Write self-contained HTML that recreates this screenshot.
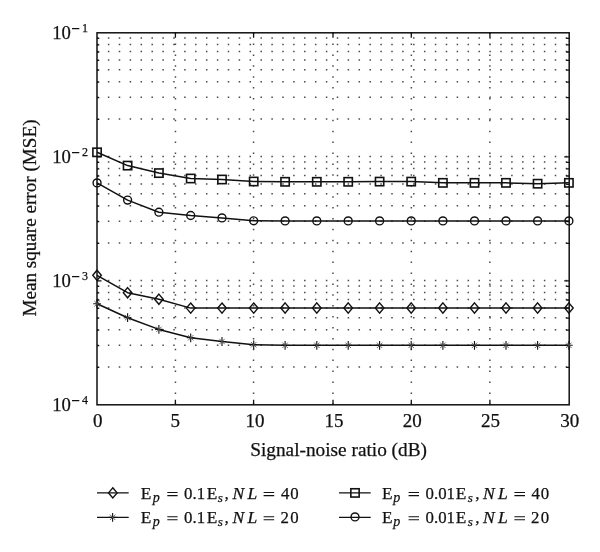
<!DOCTYPE html><html><head><meta charset="utf-8"><style>html,body{margin:0;padding:0;background:#fff;}svg{display:block;will-change:transform}text{font-family:"Liberation Serif",serif;fill:#111;stroke:#111;stroke-width:0.25px}</style></head><body>
<svg width="600" height="552" viewBox="0 0 600 552">
<rect width="600" height="552" fill="#fff"/>
<path fill="#4a4a4a" d="M96.95 366.32h1.5v1.5h-1.5zM107.85 366.32h1.5v1.5h-1.5zM118.75 366.32h1.5v1.5h-1.5zM129.65 366.32h1.5v1.5h-1.5zM140.55 366.32h1.5v1.5h-1.5zM151.45 366.32h1.5v1.5h-1.5zM162.35 366.32h1.5v1.5h-1.5zM173.25 366.32h1.5v1.5h-1.5zM184.15 366.32h1.5v1.5h-1.5zM195.05 366.32h1.5v1.5h-1.5zM205.95 366.32h1.5v1.5h-1.5zM216.85 366.32h1.5v1.5h-1.5zM227.75 366.32h1.5v1.5h-1.5zM238.65 366.32h1.5v1.5h-1.5zM249.55 366.32h1.5v1.5h-1.5zM260.45 366.32h1.5v1.5h-1.5zM271.35 366.32h1.5v1.5h-1.5zM282.25 366.32h1.5v1.5h-1.5zM293.15 366.32h1.5v1.5h-1.5zM304.05 366.32h1.5v1.5h-1.5zM314.95 366.32h1.5v1.5h-1.5zM325.85 366.32h1.5v1.5h-1.5zM336.75 366.32h1.5v1.5h-1.5zM347.65 366.32h1.5v1.5h-1.5zM358.55 366.32h1.5v1.5h-1.5zM369.45 366.32h1.5v1.5h-1.5zM380.35 366.32h1.5v1.5h-1.5zM391.25 366.32h1.5v1.5h-1.5zM402.15 366.32h1.5v1.5h-1.5zM413.05 366.32h1.5v1.5h-1.5zM423.95 366.32h1.5v1.5h-1.5zM434.85 366.32h1.5v1.5h-1.5zM445.75 366.32h1.5v1.5h-1.5zM456.65 366.32h1.5v1.5h-1.5zM467.55 366.32h1.5v1.5h-1.5zM478.45 366.32h1.5v1.5h-1.5zM489.35 366.32h1.5v1.5h-1.5zM500.25 366.32h1.5v1.5h-1.5zM511.15 366.32h1.5v1.5h-1.5zM522.05 366.32h1.5v1.5h-1.5zM532.95 366.32h1.5v1.5h-1.5zM543.85 366.32h1.5v1.5h-1.5zM554.75 366.32h1.5v1.5h-1.5zM565.65 366.32h1.5v1.5h-1.5zM96.95 344.49h1.5v1.5h-1.5zM107.85 344.49h1.5v1.5h-1.5zM118.75 344.49h1.5v1.5h-1.5zM129.65 344.49h1.5v1.5h-1.5zM140.55 344.49h1.5v1.5h-1.5zM151.45 344.49h1.5v1.5h-1.5zM162.35 344.49h1.5v1.5h-1.5zM173.25 344.49h1.5v1.5h-1.5zM184.15 344.49h1.5v1.5h-1.5zM195.05 344.49h1.5v1.5h-1.5zM205.95 344.49h1.5v1.5h-1.5zM216.85 344.49h1.5v1.5h-1.5zM227.75 344.49h1.5v1.5h-1.5zM238.65 344.49h1.5v1.5h-1.5zM249.55 344.49h1.5v1.5h-1.5zM260.45 344.49h1.5v1.5h-1.5zM271.35 344.49h1.5v1.5h-1.5zM282.25 344.49h1.5v1.5h-1.5zM293.15 344.49h1.5v1.5h-1.5zM304.05 344.49h1.5v1.5h-1.5zM314.95 344.49h1.5v1.5h-1.5zM325.85 344.49h1.5v1.5h-1.5zM336.75 344.49h1.5v1.5h-1.5zM347.65 344.49h1.5v1.5h-1.5zM358.55 344.49h1.5v1.5h-1.5zM369.45 344.49h1.5v1.5h-1.5zM380.35 344.49h1.5v1.5h-1.5zM391.25 344.49h1.5v1.5h-1.5zM402.15 344.49h1.5v1.5h-1.5zM413.05 344.49h1.5v1.5h-1.5zM423.95 344.49h1.5v1.5h-1.5zM434.85 344.49h1.5v1.5h-1.5zM445.75 344.49h1.5v1.5h-1.5zM456.65 344.49h1.5v1.5h-1.5zM467.55 344.49h1.5v1.5h-1.5zM478.45 344.49h1.5v1.5h-1.5zM489.35 344.49h1.5v1.5h-1.5zM500.25 344.49h1.5v1.5h-1.5zM511.15 344.49h1.5v1.5h-1.5zM522.05 344.49h1.5v1.5h-1.5zM532.95 344.49h1.5v1.5h-1.5zM543.85 344.49h1.5v1.5h-1.5zM554.75 344.49h1.5v1.5h-1.5zM565.65 344.49h1.5v1.5h-1.5zM96.95 328.99h1.5v1.5h-1.5zM107.85 328.99h1.5v1.5h-1.5zM118.75 328.99h1.5v1.5h-1.5zM129.65 328.99h1.5v1.5h-1.5zM140.55 328.99h1.5v1.5h-1.5zM151.45 328.99h1.5v1.5h-1.5zM162.35 328.99h1.5v1.5h-1.5zM173.25 328.99h1.5v1.5h-1.5zM184.15 328.99h1.5v1.5h-1.5zM195.05 328.99h1.5v1.5h-1.5zM205.95 328.99h1.5v1.5h-1.5zM216.85 328.99h1.5v1.5h-1.5zM227.75 328.99h1.5v1.5h-1.5zM238.65 328.99h1.5v1.5h-1.5zM249.55 328.99h1.5v1.5h-1.5zM260.45 328.99h1.5v1.5h-1.5zM271.35 328.99h1.5v1.5h-1.5zM282.25 328.99h1.5v1.5h-1.5zM293.15 328.99h1.5v1.5h-1.5zM304.05 328.99h1.5v1.5h-1.5zM314.95 328.99h1.5v1.5h-1.5zM325.85 328.99h1.5v1.5h-1.5zM336.75 328.99h1.5v1.5h-1.5zM347.65 328.99h1.5v1.5h-1.5zM358.55 328.99h1.5v1.5h-1.5zM369.45 328.99h1.5v1.5h-1.5zM380.35 328.99h1.5v1.5h-1.5zM391.25 328.99h1.5v1.5h-1.5zM402.15 328.99h1.5v1.5h-1.5zM413.05 328.99h1.5v1.5h-1.5zM423.95 328.99h1.5v1.5h-1.5zM434.85 328.99h1.5v1.5h-1.5zM445.75 328.99h1.5v1.5h-1.5zM456.65 328.99h1.5v1.5h-1.5zM467.55 328.99h1.5v1.5h-1.5zM478.45 328.99h1.5v1.5h-1.5zM489.35 328.99h1.5v1.5h-1.5zM500.25 328.99h1.5v1.5h-1.5zM511.15 328.99h1.5v1.5h-1.5zM522.05 328.99h1.5v1.5h-1.5zM532.95 328.99h1.5v1.5h-1.5zM543.85 328.99h1.5v1.5h-1.5zM554.75 328.99h1.5v1.5h-1.5zM565.65 328.99h1.5v1.5h-1.5zM96.95 316.98h1.5v1.5h-1.5zM107.85 316.98h1.5v1.5h-1.5zM118.75 316.98h1.5v1.5h-1.5zM129.65 316.98h1.5v1.5h-1.5zM140.55 316.98h1.5v1.5h-1.5zM151.45 316.98h1.5v1.5h-1.5zM162.35 316.98h1.5v1.5h-1.5zM173.25 316.98h1.5v1.5h-1.5zM184.15 316.98h1.5v1.5h-1.5zM195.05 316.98h1.5v1.5h-1.5zM205.95 316.98h1.5v1.5h-1.5zM216.85 316.98h1.5v1.5h-1.5zM227.75 316.98h1.5v1.5h-1.5zM238.65 316.98h1.5v1.5h-1.5zM249.55 316.98h1.5v1.5h-1.5zM260.45 316.98h1.5v1.5h-1.5zM271.35 316.98h1.5v1.5h-1.5zM282.25 316.98h1.5v1.5h-1.5zM293.15 316.98h1.5v1.5h-1.5zM304.05 316.98h1.5v1.5h-1.5zM314.95 316.98h1.5v1.5h-1.5zM325.85 316.98h1.5v1.5h-1.5zM336.75 316.98h1.5v1.5h-1.5zM347.65 316.98h1.5v1.5h-1.5zM358.55 316.98h1.5v1.5h-1.5zM369.45 316.98h1.5v1.5h-1.5zM380.35 316.98h1.5v1.5h-1.5zM391.25 316.98h1.5v1.5h-1.5zM402.15 316.98h1.5v1.5h-1.5zM413.05 316.98h1.5v1.5h-1.5zM423.95 316.98h1.5v1.5h-1.5zM434.85 316.98h1.5v1.5h-1.5zM445.75 316.98h1.5v1.5h-1.5zM456.65 316.98h1.5v1.5h-1.5zM467.55 316.98h1.5v1.5h-1.5zM478.45 316.98h1.5v1.5h-1.5zM489.35 316.98h1.5v1.5h-1.5zM500.25 316.98h1.5v1.5h-1.5zM511.15 316.98h1.5v1.5h-1.5zM522.05 316.98h1.5v1.5h-1.5zM532.95 316.98h1.5v1.5h-1.5zM543.85 316.98h1.5v1.5h-1.5zM554.75 316.98h1.5v1.5h-1.5zM565.65 316.98h1.5v1.5h-1.5zM96.95 307.16h1.5v1.5h-1.5zM107.85 307.16h1.5v1.5h-1.5zM118.75 307.16h1.5v1.5h-1.5zM129.65 307.16h1.5v1.5h-1.5zM140.55 307.16h1.5v1.5h-1.5zM151.45 307.16h1.5v1.5h-1.5zM162.35 307.16h1.5v1.5h-1.5zM173.25 307.16h1.5v1.5h-1.5zM184.15 307.16h1.5v1.5h-1.5zM195.05 307.16h1.5v1.5h-1.5zM205.95 307.16h1.5v1.5h-1.5zM216.85 307.16h1.5v1.5h-1.5zM227.75 307.16h1.5v1.5h-1.5zM238.65 307.16h1.5v1.5h-1.5zM249.55 307.16h1.5v1.5h-1.5zM260.45 307.16h1.5v1.5h-1.5zM271.35 307.16h1.5v1.5h-1.5zM282.25 307.16h1.5v1.5h-1.5zM293.15 307.16h1.5v1.5h-1.5zM304.05 307.16h1.5v1.5h-1.5zM314.95 307.16h1.5v1.5h-1.5zM325.85 307.16h1.5v1.5h-1.5zM336.75 307.16h1.5v1.5h-1.5zM347.65 307.16h1.5v1.5h-1.5zM358.55 307.16h1.5v1.5h-1.5zM369.45 307.16h1.5v1.5h-1.5zM380.35 307.16h1.5v1.5h-1.5zM391.25 307.16h1.5v1.5h-1.5zM402.15 307.16h1.5v1.5h-1.5zM413.05 307.16h1.5v1.5h-1.5zM423.95 307.16h1.5v1.5h-1.5zM434.85 307.16h1.5v1.5h-1.5zM445.75 307.16h1.5v1.5h-1.5zM456.65 307.16h1.5v1.5h-1.5zM467.55 307.16h1.5v1.5h-1.5zM478.45 307.16h1.5v1.5h-1.5zM489.35 307.16h1.5v1.5h-1.5zM500.25 307.16h1.5v1.5h-1.5zM511.15 307.16h1.5v1.5h-1.5zM522.05 307.16h1.5v1.5h-1.5zM532.95 307.16h1.5v1.5h-1.5zM543.85 307.16h1.5v1.5h-1.5zM554.75 307.16h1.5v1.5h-1.5zM565.65 307.16h1.5v1.5h-1.5zM96.95 298.86h1.5v1.5h-1.5zM107.85 298.86h1.5v1.5h-1.5zM118.75 298.86h1.5v1.5h-1.5zM129.65 298.86h1.5v1.5h-1.5zM140.55 298.86h1.5v1.5h-1.5zM151.45 298.86h1.5v1.5h-1.5zM162.35 298.86h1.5v1.5h-1.5zM173.25 298.86h1.5v1.5h-1.5zM184.15 298.86h1.5v1.5h-1.5zM195.05 298.86h1.5v1.5h-1.5zM205.95 298.86h1.5v1.5h-1.5zM216.85 298.86h1.5v1.5h-1.5zM227.75 298.86h1.5v1.5h-1.5zM238.65 298.86h1.5v1.5h-1.5zM249.55 298.86h1.5v1.5h-1.5zM260.45 298.86h1.5v1.5h-1.5zM271.35 298.86h1.5v1.5h-1.5zM282.25 298.86h1.5v1.5h-1.5zM293.15 298.86h1.5v1.5h-1.5zM304.05 298.86h1.5v1.5h-1.5zM314.95 298.86h1.5v1.5h-1.5zM325.85 298.86h1.5v1.5h-1.5zM336.75 298.86h1.5v1.5h-1.5zM347.65 298.86h1.5v1.5h-1.5zM358.55 298.86h1.5v1.5h-1.5zM369.45 298.86h1.5v1.5h-1.5zM380.35 298.86h1.5v1.5h-1.5zM391.25 298.86h1.5v1.5h-1.5zM402.15 298.86h1.5v1.5h-1.5zM413.05 298.86h1.5v1.5h-1.5zM423.95 298.86h1.5v1.5h-1.5zM434.85 298.86h1.5v1.5h-1.5zM445.75 298.86h1.5v1.5h-1.5zM456.65 298.86h1.5v1.5h-1.5zM467.55 298.86h1.5v1.5h-1.5zM478.45 298.86h1.5v1.5h-1.5zM489.35 298.86h1.5v1.5h-1.5zM500.25 298.86h1.5v1.5h-1.5zM511.15 298.86h1.5v1.5h-1.5zM522.05 298.86h1.5v1.5h-1.5zM532.95 298.86h1.5v1.5h-1.5zM543.85 298.86h1.5v1.5h-1.5zM554.75 298.86h1.5v1.5h-1.5zM565.65 298.86h1.5v1.5h-1.5zM96.95 291.67h1.5v1.5h-1.5zM107.85 291.67h1.5v1.5h-1.5zM118.75 291.67h1.5v1.5h-1.5zM129.65 291.67h1.5v1.5h-1.5zM140.55 291.67h1.5v1.5h-1.5zM151.45 291.67h1.5v1.5h-1.5zM162.35 291.67h1.5v1.5h-1.5zM173.25 291.67h1.5v1.5h-1.5zM184.15 291.67h1.5v1.5h-1.5zM195.05 291.67h1.5v1.5h-1.5zM205.95 291.67h1.5v1.5h-1.5zM216.85 291.67h1.5v1.5h-1.5zM227.75 291.67h1.5v1.5h-1.5zM238.65 291.67h1.5v1.5h-1.5zM249.55 291.67h1.5v1.5h-1.5zM260.45 291.67h1.5v1.5h-1.5zM271.35 291.67h1.5v1.5h-1.5zM282.25 291.67h1.5v1.5h-1.5zM293.15 291.67h1.5v1.5h-1.5zM304.05 291.67h1.5v1.5h-1.5zM314.95 291.67h1.5v1.5h-1.5zM325.85 291.67h1.5v1.5h-1.5zM336.75 291.67h1.5v1.5h-1.5zM347.65 291.67h1.5v1.5h-1.5zM358.55 291.67h1.5v1.5h-1.5zM369.45 291.67h1.5v1.5h-1.5zM380.35 291.67h1.5v1.5h-1.5zM391.25 291.67h1.5v1.5h-1.5zM402.15 291.67h1.5v1.5h-1.5zM413.05 291.67h1.5v1.5h-1.5zM423.95 291.67h1.5v1.5h-1.5zM434.85 291.67h1.5v1.5h-1.5zM445.75 291.67h1.5v1.5h-1.5zM456.65 291.67h1.5v1.5h-1.5zM467.55 291.67h1.5v1.5h-1.5zM478.45 291.67h1.5v1.5h-1.5zM489.35 291.67h1.5v1.5h-1.5zM500.25 291.67h1.5v1.5h-1.5zM511.15 291.67h1.5v1.5h-1.5zM522.05 291.67h1.5v1.5h-1.5zM532.95 291.67h1.5v1.5h-1.5zM543.85 291.67h1.5v1.5h-1.5zM554.75 291.67h1.5v1.5h-1.5zM565.65 291.67h1.5v1.5h-1.5zM96.95 285.32h1.5v1.5h-1.5zM107.85 285.32h1.5v1.5h-1.5zM118.75 285.32h1.5v1.5h-1.5zM129.65 285.32h1.5v1.5h-1.5zM140.55 285.32h1.5v1.5h-1.5zM151.45 285.32h1.5v1.5h-1.5zM162.35 285.32h1.5v1.5h-1.5zM173.25 285.32h1.5v1.5h-1.5zM184.15 285.32h1.5v1.5h-1.5zM195.05 285.32h1.5v1.5h-1.5zM205.95 285.32h1.5v1.5h-1.5zM216.85 285.32h1.5v1.5h-1.5zM227.75 285.32h1.5v1.5h-1.5zM238.65 285.32h1.5v1.5h-1.5zM249.55 285.32h1.5v1.5h-1.5zM260.45 285.32h1.5v1.5h-1.5zM271.35 285.32h1.5v1.5h-1.5zM282.25 285.32h1.5v1.5h-1.5zM293.15 285.32h1.5v1.5h-1.5zM304.05 285.32h1.5v1.5h-1.5zM314.95 285.32h1.5v1.5h-1.5zM325.85 285.32h1.5v1.5h-1.5zM336.75 285.32h1.5v1.5h-1.5zM347.65 285.32h1.5v1.5h-1.5zM358.55 285.32h1.5v1.5h-1.5zM369.45 285.32h1.5v1.5h-1.5zM380.35 285.32h1.5v1.5h-1.5zM391.25 285.32h1.5v1.5h-1.5zM402.15 285.32h1.5v1.5h-1.5zM413.05 285.32h1.5v1.5h-1.5zM423.95 285.32h1.5v1.5h-1.5zM434.85 285.32h1.5v1.5h-1.5zM445.75 285.32h1.5v1.5h-1.5zM456.65 285.32h1.5v1.5h-1.5zM467.55 285.32h1.5v1.5h-1.5zM478.45 285.32h1.5v1.5h-1.5zM489.35 285.32h1.5v1.5h-1.5zM500.25 285.32h1.5v1.5h-1.5zM511.15 285.32h1.5v1.5h-1.5zM522.05 285.32h1.5v1.5h-1.5zM532.95 285.32h1.5v1.5h-1.5zM543.85 285.32h1.5v1.5h-1.5zM554.75 285.32h1.5v1.5h-1.5zM565.65 285.32h1.5v1.5h-1.5zM96.95 279.65h1.5v1.5h-1.5zM107.85 279.65h1.5v1.5h-1.5zM118.75 279.65h1.5v1.5h-1.5zM129.65 279.65h1.5v1.5h-1.5zM140.55 279.65h1.5v1.5h-1.5zM151.45 279.65h1.5v1.5h-1.5zM162.35 279.65h1.5v1.5h-1.5zM173.25 279.65h1.5v1.5h-1.5zM184.15 279.65h1.5v1.5h-1.5zM195.05 279.65h1.5v1.5h-1.5zM205.95 279.65h1.5v1.5h-1.5zM216.85 279.65h1.5v1.5h-1.5zM227.75 279.65h1.5v1.5h-1.5zM238.65 279.65h1.5v1.5h-1.5zM249.55 279.65h1.5v1.5h-1.5zM260.45 279.65h1.5v1.5h-1.5zM271.35 279.65h1.5v1.5h-1.5zM282.25 279.65h1.5v1.5h-1.5zM293.15 279.65h1.5v1.5h-1.5zM304.05 279.65h1.5v1.5h-1.5zM314.95 279.65h1.5v1.5h-1.5zM325.85 279.65h1.5v1.5h-1.5zM336.75 279.65h1.5v1.5h-1.5zM347.65 279.65h1.5v1.5h-1.5zM358.55 279.65h1.5v1.5h-1.5zM369.45 279.65h1.5v1.5h-1.5zM380.35 279.65h1.5v1.5h-1.5zM391.25 279.65h1.5v1.5h-1.5zM402.15 279.65h1.5v1.5h-1.5zM413.05 279.65h1.5v1.5h-1.5zM423.95 279.65h1.5v1.5h-1.5zM434.85 279.65h1.5v1.5h-1.5zM445.75 279.65h1.5v1.5h-1.5zM456.65 279.65h1.5v1.5h-1.5zM467.55 279.65h1.5v1.5h-1.5zM478.45 279.65h1.5v1.5h-1.5zM489.35 279.65h1.5v1.5h-1.5zM500.25 279.65h1.5v1.5h-1.5zM511.15 279.65h1.5v1.5h-1.5zM522.05 279.65h1.5v1.5h-1.5zM532.95 279.65h1.5v1.5h-1.5zM543.85 279.65h1.5v1.5h-1.5zM554.75 279.65h1.5v1.5h-1.5zM565.65 279.65h1.5v1.5h-1.5zM96.95 242.32h1.5v1.5h-1.5zM107.85 242.32h1.5v1.5h-1.5zM118.75 242.32h1.5v1.5h-1.5zM129.65 242.32h1.5v1.5h-1.5zM140.55 242.32h1.5v1.5h-1.5zM151.45 242.32h1.5v1.5h-1.5zM162.35 242.32h1.5v1.5h-1.5zM173.25 242.32h1.5v1.5h-1.5zM184.15 242.32h1.5v1.5h-1.5zM195.05 242.32h1.5v1.5h-1.5zM205.95 242.32h1.5v1.5h-1.5zM216.85 242.32h1.5v1.5h-1.5zM227.75 242.32h1.5v1.5h-1.5zM238.65 242.32h1.5v1.5h-1.5zM249.55 242.32h1.5v1.5h-1.5zM260.45 242.32h1.5v1.5h-1.5zM271.35 242.32h1.5v1.5h-1.5zM282.25 242.32h1.5v1.5h-1.5zM293.15 242.32h1.5v1.5h-1.5zM304.05 242.32h1.5v1.5h-1.5zM314.95 242.32h1.5v1.5h-1.5zM325.85 242.32h1.5v1.5h-1.5zM336.75 242.32h1.5v1.5h-1.5zM347.65 242.32h1.5v1.5h-1.5zM358.55 242.32h1.5v1.5h-1.5zM369.45 242.32h1.5v1.5h-1.5zM380.35 242.32h1.5v1.5h-1.5zM391.25 242.32h1.5v1.5h-1.5zM402.15 242.32h1.5v1.5h-1.5zM413.05 242.32h1.5v1.5h-1.5zM423.95 242.32h1.5v1.5h-1.5zM434.85 242.32h1.5v1.5h-1.5zM445.75 242.32h1.5v1.5h-1.5zM456.65 242.32h1.5v1.5h-1.5zM467.55 242.32h1.5v1.5h-1.5zM478.45 242.32h1.5v1.5h-1.5zM489.35 242.32h1.5v1.5h-1.5zM500.25 242.32h1.5v1.5h-1.5zM511.15 242.32h1.5v1.5h-1.5zM522.05 242.32h1.5v1.5h-1.5zM532.95 242.32h1.5v1.5h-1.5zM543.85 242.32h1.5v1.5h-1.5zM554.75 242.32h1.5v1.5h-1.5zM565.65 242.32h1.5v1.5h-1.5zM96.95 220.49h1.5v1.5h-1.5zM107.85 220.49h1.5v1.5h-1.5zM118.75 220.49h1.5v1.5h-1.5zM129.65 220.49h1.5v1.5h-1.5zM140.55 220.49h1.5v1.5h-1.5zM151.45 220.49h1.5v1.5h-1.5zM162.35 220.49h1.5v1.5h-1.5zM173.25 220.49h1.5v1.5h-1.5zM184.15 220.49h1.5v1.5h-1.5zM195.05 220.49h1.5v1.5h-1.5zM205.95 220.49h1.5v1.5h-1.5zM216.85 220.49h1.5v1.5h-1.5zM227.75 220.49h1.5v1.5h-1.5zM238.65 220.49h1.5v1.5h-1.5zM249.55 220.49h1.5v1.5h-1.5zM260.45 220.49h1.5v1.5h-1.5zM271.35 220.49h1.5v1.5h-1.5zM282.25 220.49h1.5v1.5h-1.5zM293.15 220.49h1.5v1.5h-1.5zM304.05 220.49h1.5v1.5h-1.5zM314.95 220.49h1.5v1.5h-1.5zM325.85 220.49h1.5v1.5h-1.5zM336.75 220.49h1.5v1.5h-1.5zM347.65 220.49h1.5v1.5h-1.5zM358.55 220.49h1.5v1.5h-1.5zM369.45 220.49h1.5v1.5h-1.5zM380.35 220.49h1.5v1.5h-1.5zM391.25 220.49h1.5v1.5h-1.5zM402.15 220.49h1.5v1.5h-1.5zM413.05 220.49h1.5v1.5h-1.5zM423.95 220.49h1.5v1.5h-1.5zM434.85 220.49h1.5v1.5h-1.5zM445.75 220.49h1.5v1.5h-1.5zM456.65 220.49h1.5v1.5h-1.5zM467.55 220.49h1.5v1.5h-1.5zM478.45 220.49h1.5v1.5h-1.5zM489.35 220.49h1.5v1.5h-1.5zM500.25 220.49h1.5v1.5h-1.5zM511.15 220.49h1.5v1.5h-1.5zM522.05 220.49h1.5v1.5h-1.5zM532.95 220.49h1.5v1.5h-1.5zM543.85 220.49h1.5v1.5h-1.5zM554.75 220.49h1.5v1.5h-1.5zM565.65 220.49h1.5v1.5h-1.5zM96.95 204.99h1.5v1.5h-1.5zM107.85 204.99h1.5v1.5h-1.5zM118.75 204.99h1.5v1.5h-1.5zM129.65 204.99h1.5v1.5h-1.5zM140.55 204.99h1.5v1.5h-1.5zM151.45 204.99h1.5v1.5h-1.5zM162.35 204.99h1.5v1.5h-1.5zM173.25 204.99h1.5v1.5h-1.5zM184.15 204.99h1.5v1.5h-1.5zM195.05 204.99h1.5v1.5h-1.5zM205.95 204.99h1.5v1.5h-1.5zM216.85 204.99h1.5v1.5h-1.5zM227.75 204.99h1.5v1.5h-1.5zM238.65 204.99h1.5v1.5h-1.5zM249.55 204.99h1.5v1.5h-1.5zM260.45 204.99h1.5v1.5h-1.5zM271.35 204.99h1.5v1.5h-1.5zM282.25 204.99h1.5v1.5h-1.5zM293.15 204.99h1.5v1.5h-1.5zM304.05 204.99h1.5v1.5h-1.5zM314.95 204.99h1.5v1.5h-1.5zM325.85 204.99h1.5v1.5h-1.5zM336.75 204.99h1.5v1.5h-1.5zM347.65 204.99h1.5v1.5h-1.5zM358.55 204.99h1.5v1.5h-1.5zM369.45 204.99h1.5v1.5h-1.5zM380.35 204.99h1.5v1.5h-1.5zM391.25 204.99h1.5v1.5h-1.5zM402.15 204.99h1.5v1.5h-1.5zM413.05 204.99h1.5v1.5h-1.5zM423.95 204.99h1.5v1.5h-1.5zM434.85 204.99h1.5v1.5h-1.5zM445.75 204.99h1.5v1.5h-1.5zM456.65 204.99h1.5v1.5h-1.5zM467.55 204.99h1.5v1.5h-1.5zM478.45 204.99h1.5v1.5h-1.5zM489.35 204.99h1.5v1.5h-1.5zM500.25 204.99h1.5v1.5h-1.5zM511.15 204.99h1.5v1.5h-1.5zM522.05 204.99h1.5v1.5h-1.5zM532.95 204.99h1.5v1.5h-1.5zM543.85 204.99h1.5v1.5h-1.5zM554.75 204.99h1.5v1.5h-1.5zM565.65 204.99h1.5v1.5h-1.5zM96.95 192.98h1.5v1.5h-1.5zM107.85 192.98h1.5v1.5h-1.5zM118.75 192.98h1.5v1.5h-1.5zM129.65 192.98h1.5v1.5h-1.5zM140.55 192.98h1.5v1.5h-1.5zM151.45 192.98h1.5v1.5h-1.5zM162.35 192.98h1.5v1.5h-1.5zM173.25 192.98h1.5v1.5h-1.5zM184.15 192.98h1.5v1.5h-1.5zM195.05 192.98h1.5v1.5h-1.5zM205.95 192.98h1.5v1.5h-1.5zM216.85 192.98h1.5v1.5h-1.5zM227.75 192.98h1.5v1.5h-1.5zM238.65 192.98h1.5v1.5h-1.5zM249.55 192.98h1.5v1.5h-1.5zM260.45 192.98h1.5v1.5h-1.5zM271.35 192.98h1.5v1.5h-1.5zM282.25 192.98h1.5v1.5h-1.5zM293.15 192.98h1.5v1.5h-1.5zM304.05 192.98h1.5v1.5h-1.5zM314.95 192.98h1.5v1.5h-1.5zM325.85 192.98h1.5v1.5h-1.5zM336.75 192.98h1.5v1.5h-1.5zM347.65 192.98h1.5v1.5h-1.5zM358.55 192.98h1.5v1.5h-1.5zM369.45 192.98h1.5v1.5h-1.5zM380.35 192.98h1.5v1.5h-1.5zM391.25 192.98h1.5v1.5h-1.5zM402.15 192.98h1.5v1.5h-1.5zM413.05 192.98h1.5v1.5h-1.5zM423.95 192.98h1.5v1.5h-1.5zM434.85 192.98h1.5v1.5h-1.5zM445.75 192.98h1.5v1.5h-1.5zM456.65 192.98h1.5v1.5h-1.5zM467.55 192.98h1.5v1.5h-1.5zM478.45 192.98h1.5v1.5h-1.5zM489.35 192.98h1.5v1.5h-1.5zM500.25 192.98h1.5v1.5h-1.5zM511.15 192.98h1.5v1.5h-1.5zM522.05 192.98h1.5v1.5h-1.5zM532.95 192.98h1.5v1.5h-1.5zM543.85 192.98h1.5v1.5h-1.5zM554.75 192.98h1.5v1.5h-1.5zM565.65 192.98h1.5v1.5h-1.5zM96.95 183.16h1.5v1.5h-1.5zM107.85 183.16h1.5v1.5h-1.5zM118.75 183.16h1.5v1.5h-1.5zM129.65 183.16h1.5v1.5h-1.5zM140.55 183.16h1.5v1.5h-1.5zM151.45 183.16h1.5v1.5h-1.5zM162.35 183.16h1.5v1.5h-1.5zM173.25 183.16h1.5v1.5h-1.5zM184.15 183.16h1.5v1.5h-1.5zM195.05 183.16h1.5v1.5h-1.5zM205.95 183.16h1.5v1.5h-1.5zM216.85 183.16h1.5v1.5h-1.5zM227.75 183.16h1.5v1.5h-1.5zM238.65 183.16h1.5v1.5h-1.5zM249.55 183.16h1.5v1.5h-1.5zM260.45 183.16h1.5v1.5h-1.5zM271.35 183.16h1.5v1.5h-1.5zM282.25 183.16h1.5v1.5h-1.5zM293.15 183.16h1.5v1.5h-1.5zM304.05 183.16h1.5v1.5h-1.5zM314.95 183.16h1.5v1.5h-1.5zM325.85 183.16h1.5v1.5h-1.5zM336.75 183.16h1.5v1.5h-1.5zM347.65 183.16h1.5v1.5h-1.5zM358.55 183.16h1.5v1.5h-1.5zM369.45 183.16h1.5v1.5h-1.5zM380.35 183.16h1.5v1.5h-1.5zM391.25 183.16h1.5v1.5h-1.5zM402.15 183.16h1.5v1.5h-1.5zM413.05 183.16h1.5v1.5h-1.5zM423.95 183.16h1.5v1.5h-1.5zM434.85 183.16h1.5v1.5h-1.5zM445.75 183.16h1.5v1.5h-1.5zM456.65 183.16h1.5v1.5h-1.5zM467.55 183.16h1.5v1.5h-1.5zM478.45 183.16h1.5v1.5h-1.5zM489.35 183.16h1.5v1.5h-1.5zM500.25 183.16h1.5v1.5h-1.5zM511.15 183.16h1.5v1.5h-1.5zM522.05 183.16h1.5v1.5h-1.5zM532.95 183.16h1.5v1.5h-1.5zM543.85 183.16h1.5v1.5h-1.5zM554.75 183.16h1.5v1.5h-1.5zM565.65 183.16h1.5v1.5h-1.5zM96.95 174.86h1.5v1.5h-1.5zM107.85 174.86h1.5v1.5h-1.5zM118.75 174.86h1.5v1.5h-1.5zM129.65 174.86h1.5v1.5h-1.5zM140.55 174.86h1.5v1.5h-1.5zM151.45 174.86h1.5v1.5h-1.5zM162.35 174.86h1.5v1.5h-1.5zM173.25 174.86h1.5v1.5h-1.5zM184.15 174.86h1.5v1.5h-1.5zM195.05 174.86h1.5v1.5h-1.5zM205.95 174.86h1.5v1.5h-1.5zM216.85 174.86h1.5v1.5h-1.5zM227.75 174.86h1.5v1.5h-1.5zM238.65 174.86h1.5v1.5h-1.5zM249.55 174.86h1.5v1.5h-1.5zM260.45 174.86h1.5v1.5h-1.5zM271.35 174.86h1.5v1.5h-1.5zM282.25 174.86h1.5v1.5h-1.5zM293.15 174.86h1.5v1.5h-1.5zM304.05 174.86h1.5v1.5h-1.5zM314.95 174.86h1.5v1.5h-1.5zM325.85 174.86h1.5v1.5h-1.5zM336.75 174.86h1.5v1.5h-1.5zM347.65 174.86h1.5v1.5h-1.5zM358.55 174.86h1.5v1.5h-1.5zM369.45 174.86h1.5v1.5h-1.5zM380.35 174.86h1.5v1.5h-1.5zM391.25 174.86h1.5v1.5h-1.5zM402.15 174.86h1.5v1.5h-1.5zM413.05 174.86h1.5v1.5h-1.5zM423.95 174.86h1.5v1.5h-1.5zM434.85 174.86h1.5v1.5h-1.5zM445.75 174.86h1.5v1.5h-1.5zM456.65 174.86h1.5v1.5h-1.5zM467.55 174.86h1.5v1.5h-1.5zM478.45 174.86h1.5v1.5h-1.5zM489.35 174.86h1.5v1.5h-1.5zM500.25 174.86h1.5v1.5h-1.5zM511.15 174.86h1.5v1.5h-1.5zM522.05 174.86h1.5v1.5h-1.5zM532.95 174.86h1.5v1.5h-1.5zM543.85 174.86h1.5v1.5h-1.5zM554.75 174.86h1.5v1.5h-1.5zM565.65 174.86h1.5v1.5h-1.5zM96.95 167.67h1.5v1.5h-1.5zM107.85 167.67h1.5v1.5h-1.5zM118.75 167.67h1.5v1.5h-1.5zM129.65 167.67h1.5v1.5h-1.5zM140.55 167.67h1.5v1.5h-1.5zM151.45 167.67h1.5v1.5h-1.5zM162.35 167.67h1.5v1.5h-1.5zM173.25 167.67h1.5v1.5h-1.5zM184.15 167.67h1.5v1.5h-1.5zM195.05 167.67h1.5v1.5h-1.5zM205.95 167.67h1.5v1.5h-1.5zM216.85 167.67h1.5v1.5h-1.5zM227.75 167.67h1.5v1.5h-1.5zM238.65 167.67h1.5v1.5h-1.5zM249.55 167.67h1.5v1.5h-1.5zM260.45 167.67h1.5v1.5h-1.5zM271.35 167.67h1.5v1.5h-1.5zM282.25 167.67h1.5v1.5h-1.5zM293.15 167.67h1.5v1.5h-1.5zM304.05 167.67h1.5v1.5h-1.5zM314.95 167.67h1.5v1.5h-1.5zM325.85 167.67h1.5v1.5h-1.5zM336.75 167.67h1.5v1.5h-1.5zM347.65 167.67h1.5v1.5h-1.5zM358.55 167.67h1.5v1.5h-1.5zM369.45 167.67h1.5v1.5h-1.5zM380.35 167.67h1.5v1.5h-1.5zM391.25 167.67h1.5v1.5h-1.5zM402.15 167.67h1.5v1.5h-1.5zM413.05 167.67h1.5v1.5h-1.5zM423.95 167.67h1.5v1.5h-1.5zM434.85 167.67h1.5v1.5h-1.5zM445.75 167.67h1.5v1.5h-1.5zM456.65 167.67h1.5v1.5h-1.5zM467.55 167.67h1.5v1.5h-1.5zM478.45 167.67h1.5v1.5h-1.5zM489.35 167.67h1.5v1.5h-1.5zM500.25 167.67h1.5v1.5h-1.5zM511.15 167.67h1.5v1.5h-1.5zM522.05 167.67h1.5v1.5h-1.5zM532.95 167.67h1.5v1.5h-1.5zM543.85 167.67h1.5v1.5h-1.5zM554.75 167.67h1.5v1.5h-1.5zM565.65 167.67h1.5v1.5h-1.5zM96.95 161.32h1.5v1.5h-1.5zM107.85 161.32h1.5v1.5h-1.5zM118.75 161.32h1.5v1.5h-1.5zM129.65 161.32h1.5v1.5h-1.5zM140.55 161.32h1.5v1.5h-1.5zM151.45 161.32h1.5v1.5h-1.5zM162.35 161.32h1.5v1.5h-1.5zM173.25 161.32h1.5v1.5h-1.5zM184.15 161.32h1.5v1.5h-1.5zM195.05 161.32h1.5v1.5h-1.5zM205.95 161.32h1.5v1.5h-1.5zM216.85 161.32h1.5v1.5h-1.5zM227.75 161.32h1.5v1.5h-1.5zM238.65 161.32h1.5v1.5h-1.5zM249.55 161.32h1.5v1.5h-1.5zM260.45 161.32h1.5v1.5h-1.5zM271.35 161.32h1.5v1.5h-1.5zM282.25 161.32h1.5v1.5h-1.5zM293.15 161.32h1.5v1.5h-1.5zM304.05 161.32h1.5v1.5h-1.5zM314.95 161.32h1.5v1.5h-1.5zM325.85 161.32h1.5v1.5h-1.5zM336.75 161.32h1.5v1.5h-1.5zM347.65 161.32h1.5v1.5h-1.5zM358.55 161.32h1.5v1.5h-1.5zM369.45 161.32h1.5v1.5h-1.5zM380.35 161.32h1.5v1.5h-1.5zM391.25 161.32h1.5v1.5h-1.5zM402.15 161.32h1.5v1.5h-1.5zM413.05 161.32h1.5v1.5h-1.5zM423.95 161.32h1.5v1.5h-1.5zM434.85 161.32h1.5v1.5h-1.5zM445.75 161.32h1.5v1.5h-1.5zM456.65 161.32h1.5v1.5h-1.5zM467.55 161.32h1.5v1.5h-1.5zM478.45 161.32h1.5v1.5h-1.5zM489.35 161.32h1.5v1.5h-1.5zM500.25 161.32h1.5v1.5h-1.5zM511.15 161.32h1.5v1.5h-1.5zM522.05 161.32h1.5v1.5h-1.5zM532.95 161.32h1.5v1.5h-1.5zM543.85 161.32h1.5v1.5h-1.5zM554.75 161.32h1.5v1.5h-1.5zM565.65 161.32h1.5v1.5h-1.5zM96.95 155.65h1.5v1.5h-1.5zM107.85 155.65h1.5v1.5h-1.5zM118.75 155.65h1.5v1.5h-1.5zM129.65 155.65h1.5v1.5h-1.5zM140.55 155.65h1.5v1.5h-1.5zM151.45 155.65h1.5v1.5h-1.5zM162.35 155.65h1.5v1.5h-1.5zM173.25 155.65h1.5v1.5h-1.5zM184.15 155.65h1.5v1.5h-1.5zM195.05 155.65h1.5v1.5h-1.5zM205.95 155.65h1.5v1.5h-1.5zM216.85 155.65h1.5v1.5h-1.5zM227.75 155.65h1.5v1.5h-1.5zM238.65 155.65h1.5v1.5h-1.5zM249.55 155.65h1.5v1.5h-1.5zM260.45 155.65h1.5v1.5h-1.5zM271.35 155.65h1.5v1.5h-1.5zM282.25 155.65h1.5v1.5h-1.5zM293.15 155.65h1.5v1.5h-1.5zM304.05 155.65h1.5v1.5h-1.5zM314.95 155.65h1.5v1.5h-1.5zM325.85 155.65h1.5v1.5h-1.5zM336.75 155.65h1.5v1.5h-1.5zM347.65 155.65h1.5v1.5h-1.5zM358.55 155.65h1.5v1.5h-1.5zM369.45 155.65h1.5v1.5h-1.5zM380.35 155.65h1.5v1.5h-1.5zM391.25 155.65h1.5v1.5h-1.5zM402.15 155.65h1.5v1.5h-1.5zM413.05 155.65h1.5v1.5h-1.5zM423.95 155.65h1.5v1.5h-1.5zM434.85 155.65h1.5v1.5h-1.5zM445.75 155.65h1.5v1.5h-1.5zM456.65 155.65h1.5v1.5h-1.5zM467.55 155.65h1.5v1.5h-1.5zM478.45 155.65h1.5v1.5h-1.5zM489.35 155.65h1.5v1.5h-1.5zM500.25 155.65h1.5v1.5h-1.5zM511.15 155.65h1.5v1.5h-1.5zM522.05 155.65h1.5v1.5h-1.5zM532.95 155.65h1.5v1.5h-1.5zM543.85 155.65h1.5v1.5h-1.5zM554.75 155.65h1.5v1.5h-1.5zM565.65 155.65h1.5v1.5h-1.5zM96.95 118.32h1.5v1.5h-1.5zM107.85 118.32h1.5v1.5h-1.5zM118.75 118.32h1.5v1.5h-1.5zM129.65 118.32h1.5v1.5h-1.5zM140.55 118.32h1.5v1.5h-1.5zM151.45 118.32h1.5v1.5h-1.5zM162.35 118.32h1.5v1.5h-1.5zM173.25 118.32h1.5v1.5h-1.5zM184.15 118.32h1.5v1.5h-1.5zM195.05 118.32h1.5v1.5h-1.5zM205.95 118.32h1.5v1.5h-1.5zM216.85 118.32h1.5v1.5h-1.5zM227.75 118.32h1.5v1.5h-1.5zM238.65 118.32h1.5v1.5h-1.5zM249.55 118.32h1.5v1.5h-1.5zM260.45 118.32h1.5v1.5h-1.5zM271.35 118.32h1.5v1.5h-1.5zM282.25 118.32h1.5v1.5h-1.5zM293.15 118.32h1.5v1.5h-1.5zM304.05 118.32h1.5v1.5h-1.5zM314.95 118.32h1.5v1.5h-1.5zM325.85 118.32h1.5v1.5h-1.5zM336.75 118.32h1.5v1.5h-1.5zM347.65 118.32h1.5v1.5h-1.5zM358.55 118.32h1.5v1.5h-1.5zM369.45 118.32h1.5v1.5h-1.5zM380.35 118.32h1.5v1.5h-1.5zM391.25 118.32h1.5v1.5h-1.5zM402.15 118.32h1.5v1.5h-1.5zM413.05 118.32h1.5v1.5h-1.5zM423.95 118.32h1.5v1.5h-1.5zM434.85 118.32h1.5v1.5h-1.5zM445.75 118.32h1.5v1.5h-1.5zM456.65 118.32h1.5v1.5h-1.5zM467.55 118.32h1.5v1.5h-1.5zM478.45 118.32h1.5v1.5h-1.5zM489.35 118.32h1.5v1.5h-1.5zM500.25 118.32h1.5v1.5h-1.5zM511.15 118.32h1.5v1.5h-1.5zM522.05 118.32h1.5v1.5h-1.5zM532.95 118.32h1.5v1.5h-1.5zM543.85 118.32h1.5v1.5h-1.5zM554.75 118.32h1.5v1.5h-1.5zM565.65 118.32h1.5v1.5h-1.5zM96.95 96.49h1.5v1.5h-1.5zM107.85 96.49h1.5v1.5h-1.5zM118.75 96.49h1.5v1.5h-1.5zM129.65 96.49h1.5v1.5h-1.5zM140.55 96.49h1.5v1.5h-1.5zM151.45 96.49h1.5v1.5h-1.5zM162.35 96.49h1.5v1.5h-1.5zM173.25 96.49h1.5v1.5h-1.5zM184.15 96.49h1.5v1.5h-1.5zM195.05 96.49h1.5v1.5h-1.5zM205.95 96.49h1.5v1.5h-1.5zM216.85 96.49h1.5v1.5h-1.5zM227.75 96.49h1.5v1.5h-1.5zM238.65 96.49h1.5v1.5h-1.5zM249.55 96.49h1.5v1.5h-1.5zM260.45 96.49h1.5v1.5h-1.5zM271.35 96.49h1.5v1.5h-1.5zM282.25 96.49h1.5v1.5h-1.5zM293.15 96.49h1.5v1.5h-1.5zM304.05 96.49h1.5v1.5h-1.5zM314.95 96.49h1.5v1.5h-1.5zM325.85 96.49h1.5v1.5h-1.5zM336.75 96.49h1.5v1.5h-1.5zM347.65 96.49h1.5v1.5h-1.5zM358.55 96.49h1.5v1.5h-1.5zM369.45 96.49h1.5v1.5h-1.5zM380.35 96.49h1.5v1.5h-1.5zM391.25 96.49h1.5v1.5h-1.5zM402.15 96.49h1.5v1.5h-1.5zM413.05 96.49h1.5v1.5h-1.5zM423.95 96.49h1.5v1.5h-1.5zM434.85 96.49h1.5v1.5h-1.5zM445.75 96.49h1.5v1.5h-1.5zM456.65 96.49h1.5v1.5h-1.5zM467.55 96.49h1.5v1.5h-1.5zM478.45 96.49h1.5v1.5h-1.5zM489.35 96.49h1.5v1.5h-1.5zM500.25 96.49h1.5v1.5h-1.5zM511.15 96.49h1.5v1.5h-1.5zM522.05 96.49h1.5v1.5h-1.5zM532.95 96.49h1.5v1.5h-1.5zM543.85 96.49h1.5v1.5h-1.5zM554.75 96.49h1.5v1.5h-1.5zM565.65 96.49h1.5v1.5h-1.5zM96.95 80.99h1.5v1.5h-1.5zM107.85 80.99h1.5v1.5h-1.5zM118.75 80.99h1.5v1.5h-1.5zM129.65 80.99h1.5v1.5h-1.5zM140.55 80.99h1.5v1.5h-1.5zM151.45 80.99h1.5v1.5h-1.5zM162.35 80.99h1.5v1.5h-1.5zM173.25 80.99h1.5v1.5h-1.5zM184.15 80.99h1.5v1.5h-1.5zM195.05 80.99h1.5v1.5h-1.5zM205.95 80.99h1.5v1.5h-1.5zM216.85 80.99h1.5v1.5h-1.5zM227.75 80.99h1.5v1.5h-1.5zM238.65 80.99h1.5v1.5h-1.5zM249.55 80.99h1.5v1.5h-1.5zM260.45 80.99h1.5v1.5h-1.5zM271.35 80.99h1.5v1.5h-1.5zM282.25 80.99h1.5v1.5h-1.5zM293.15 80.99h1.5v1.5h-1.5zM304.05 80.99h1.5v1.5h-1.5zM314.95 80.99h1.5v1.5h-1.5zM325.85 80.99h1.5v1.5h-1.5zM336.75 80.99h1.5v1.5h-1.5zM347.65 80.99h1.5v1.5h-1.5zM358.55 80.99h1.5v1.5h-1.5zM369.45 80.99h1.5v1.5h-1.5zM380.35 80.99h1.5v1.5h-1.5zM391.25 80.99h1.5v1.5h-1.5zM402.15 80.99h1.5v1.5h-1.5zM413.05 80.99h1.5v1.5h-1.5zM423.95 80.99h1.5v1.5h-1.5zM434.85 80.99h1.5v1.5h-1.5zM445.75 80.99h1.5v1.5h-1.5zM456.65 80.99h1.5v1.5h-1.5zM467.55 80.99h1.5v1.5h-1.5zM478.45 80.99h1.5v1.5h-1.5zM489.35 80.99h1.5v1.5h-1.5zM500.25 80.99h1.5v1.5h-1.5zM511.15 80.99h1.5v1.5h-1.5zM522.05 80.99h1.5v1.5h-1.5zM532.95 80.99h1.5v1.5h-1.5zM543.85 80.99h1.5v1.5h-1.5zM554.75 80.99h1.5v1.5h-1.5zM565.65 80.99h1.5v1.5h-1.5zM96.95 68.98h1.5v1.5h-1.5zM107.85 68.98h1.5v1.5h-1.5zM118.75 68.98h1.5v1.5h-1.5zM129.65 68.98h1.5v1.5h-1.5zM140.55 68.98h1.5v1.5h-1.5zM151.45 68.98h1.5v1.5h-1.5zM162.35 68.98h1.5v1.5h-1.5zM173.25 68.98h1.5v1.5h-1.5zM184.15 68.98h1.5v1.5h-1.5zM195.05 68.98h1.5v1.5h-1.5zM205.95 68.98h1.5v1.5h-1.5zM216.85 68.98h1.5v1.5h-1.5zM227.75 68.98h1.5v1.5h-1.5zM238.65 68.98h1.5v1.5h-1.5zM249.55 68.98h1.5v1.5h-1.5zM260.45 68.98h1.5v1.5h-1.5zM271.35 68.98h1.5v1.5h-1.5zM282.25 68.98h1.5v1.5h-1.5zM293.15 68.98h1.5v1.5h-1.5zM304.05 68.98h1.5v1.5h-1.5zM314.95 68.98h1.5v1.5h-1.5zM325.85 68.98h1.5v1.5h-1.5zM336.75 68.98h1.5v1.5h-1.5zM347.65 68.98h1.5v1.5h-1.5zM358.55 68.98h1.5v1.5h-1.5zM369.45 68.98h1.5v1.5h-1.5zM380.35 68.98h1.5v1.5h-1.5zM391.25 68.98h1.5v1.5h-1.5zM402.15 68.98h1.5v1.5h-1.5zM413.05 68.98h1.5v1.5h-1.5zM423.95 68.98h1.5v1.5h-1.5zM434.85 68.98h1.5v1.5h-1.5zM445.75 68.98h1.5v1.5h-1.5zM456.65 68.98h1.5v1.5h-1.5zM467.55 68.98h1.5v1.5h-1.5zM478.45 68.98h1.5v1.5h-1.5zM489.35 68.98h1.5v1.5h-1.5zM500.25 68.98h1.5v1.5h-1.5zM511.15 68.98h1.5v1.5h-1.5zM522.05 68.98h1.5v1.5h-1.5zM532.95 68.98h1.5v1.5h-1.5zM543.85 68.98h1.5v1.5h-1.5zM554.75 68.98h1.5v1.5h-1.5zM565.65 68.98h1.5v1.5h-1.5zM96.95 59.16h1.5v1.5h-1.5zM107.85 59.16h1.5v1.5h-1.5zM118.75 59.16h1.5v1.5h-1.5zM129.65 59.16h1.5v1.5h-1.5zM140.55 59.16h1.5v1.5h-1.5zM151.45 59.16h1.5v1.5h-1.5zM162.35 59.16h1.5v1.5h-1.5zM173.25 59.16h1.5v1.5h-1.5zM184.15 59.16h1.5v1.5h-1.5zM195.05 59.16h1.5v1.5h-1.5zM205.95 59.16h1.5v1.5h-1.5zM216.85 59.16h1.5v1.5h-1.5zM227.75 59.16h1.5v1.5h-1.5zM238.65 59.16h1.5v1.5h-1.5zM249.55 59.16h1.5v1.5h-1.5zM260.45 59.16h1.5v1.5h-1.5zM271.35 59.16h1.5v1.5h-1.5zM282.25 59.16h1.5v1.5h-1.5zM293.15 59.16h1.5v1.5h-1.5zM304.05 59.16h1.5v1.5h-1.5zM314.95 59.16h1.5v1.5h-1.5zM325.85 59.16h1.5v1.5h-1.5zM336.75 59.16h1.5v1.5h-1.5zM347.65 59.16h1.5v1.5h-1.5zM358.55 59.16h1.5v1.5h-1.5zM369.45 59.16h1.5v1.5h-1.5zM380.35 59.16h1.5v1.5h-1.5zM391.25 59.16h1.5v1.5h-1.5zM402.15 59.16h1.5v1.5h-1.5zM413.05 59.16h1.5v1.5h-1.5zM423.95 59.16h1.5v1.5h-1.5zM434.85 59.16h1.5v1.5h-1.5zM445.75 59.16h1.5v1.5h-1.5zM456.65 59.16h1.5v1.5h-1.5zM467.55 59.16h1.5v1.5h-1.5zM478.45 59.16h1.5v1.5h-1.5zM489.35 59.16h1.5v1.5h-1.5zM500.25 59.16h1.5v1.5h-1.5zM511.15 59.16h1.5v1.5h-1.5zM522.05 59.16h1.5v1.5h-1.5zM532.95 59.16h1.5v1.5h-1.5zM543.85 59.16h1.5v1.5h-1.5zM554.75 59.16h1.5v1.5h-1.5zM565.65 59.16h1.5v1.5h-1.5zM96.95 50.86h1.5v1.5h-1.5zM107.85 50.86h1.5v1.5h-1.5zM118.75 50.86h1.5v1.5h-1.5zM129.65 50.86h1.5v1.5h-1.5zM140.55 50.86h1.5v1.5h-1.5zM151.45 50.86h1.5v1.5h-1.5zM162.35 50.86h1.5v1.5h-1.5zM173.25 50.86h1.5v1.5h-1.5zM184.15 50.86h1.5v1.5h-1.5zM195.05 50.86h1.5v1.5h-1.5zM205.95 50.86h1.5v1.5h-1.5zM216.85 50.86h1.5v1.5h-1.5zM227.75 50.86h1.5v1.5h-1.5zM238.65 50.86h1.5v1.5h-1.5zM249.55 50.86h1.5v1.5h-1.5zM260.45 50.86h1.5v1.5h-1.5zM271.35 50.86h1.5v1.5h-1.5zM282.25 50.86h1.5v1.5h-1.5zM293.15 50.86h1.5v1.5h-1.5zM304.05 50.86h1.5v1.5h-1.5zM314.95 50.86h1.5v1.5h-1.5zM325.85 50.86h1.5v1.5h-1.5zM336.75 50.86h1.5v1.5h-1.5zM347.65 50.86h1.5v1.5h-1.5zM358.55 50.86h1.5v1.5h-1.5zM369.45 50.86h1.5v1.5h-1.5zM380.35 50.86h1.5v1.5h-1.5zM391.25 50.86h1.5v1.5h-1.5zM402.15 50.86h1.5v1.5h-1.5zM413.05 50.86h1.5v1.5h-1.5zM423.95 50.86h1.5v1.5h-1.5zM434.85 50.86h1.5v1.5h-1.5zM445.75 50.86h1.5v1.5h-1.5zM456.65 50.86h1.5v1.5h-1.5zM467.55 50.86h1.5v1.5h-1.5zM478.45 50.86h1.5v1.5h-1.5zM489.35 50.86h1.5v1.5h-1.5zM500.25 50.86h1.5v1.5h-1.5zM511.15 50.86h1.5v1.5h-1.5zM522.05 50.86h1.5v1.5h-1.5zM532.95 50.86h1.5v1.5h-1.5zM543.85 50.86h1.5v1.5h-1.5zM554.75 50.86h1.5v1.5h-1.5zM565.65 50.86h1.5v1.5h-1.5zM96.95 43.67h1.5v1.5h-1.5zM107.85 43.67h1.5v1.5h-1.5zM118.75 43.67h1.5v1.5h-1.5zM129.65 43.67h1.5v1.5h-1.5zM140.55 43.67h1.5v1.5h-1.5zM151.45 43.67h1.5v1.5h-1.5zM162.35 43.67h1.5v1.5h-1.5zM173.25 43.67h1.5v1.5h-1.5zM184.15 43.67h1.5v1.5h-1.5zM195.05 43.67h1.5v1.5h-1.5zM205.95 43.67h1.5v1.5h-1.5zM216.85 43.67h1.5v1.5h-1.5zM227.75 43.67h1.5v1.5h-1.5zM238.65 43.67h1.5v1.5h-1.5zM249.55 43.67h1.5v1.5h-1.5zM260.45 43.67h1.5v1.5h-1.5zM271.35 43.67h1.5v1.5h-1.5zM282.25 43.67h1.5v1.5h-1.5zM293.15 43.67h1.5v1.5h-1.5zM304.05 43.67h1.5v1.5h-1.5zM314.95 43.67h1.5v1.5h-1.5zM325.85 43.67h1.5v1.5h-1.5zM336.75 43.67h1.5v1.5h-1.5zM347.65 43.67h1.5v1.5h-1.5zM358.55 43.67h1.5v1.5h-1.5zM369.45 43.67h1.5v1.5h-1.5zM380.35 43.67h1.5v1.5h-1.5zM391.25 43.67h1.5v1.5h-1.5zM402.15 43.67h1.5v1.5h-1.5zM413.05 43.67h1.5v1.5h-1.5zM423.95 43.67h1.5v1.5h-1.5zM434.85 43.67h1.5v1.5h-1.5zM445.75 43.67h1.5v1.5h-1.5zM456.65 43.67h1.5v1.5h-1.5zM467.55 43.67h1.5v1.5h-1.5zM478.45 43.67h1.5v1.5h-1.5zM489.35 43.67h1.5v1.5h-1.5zM500.25 43.67h1.5v1.5h-1.5zM511.15 43.67h1.5v1.5h-1.5zM522.05 43.67h1.5v1.5h-1.5zM532.95 43.67h1.5v1.5h-1.5zM543.85 43.67h1.5v1.5h-1.5zM554.75 43.67h1.5v1.5h-1.5zM565.65 43.67h1.5v1.5h-1.5zM96.95 37.32h1.5v1.5h-1.5zM107.85 37.32h1.5v1.5h-1.5zM118.75 37.32h1.5v1.5h-1.5zM129.65 37.32h1.5v1.5h-1.5zM140.55 37.32h1.5v1.5h-1.5zM151.45 37.32h1.5v1.5h-1.5zM162.35 37.32h1.5v1.5h-1.5zM173.25 37.32h1.5v1.5h-1.5zM184.15 37.32h1.5v1.5h-1.5zM195.05 37.32h1.5v1.5h-1.5zM205.95 37.32h1.5v1.5h-1.5zM216.85 37.32h1.5v1.5h-1.5zM227.75 37.32h1.5v1.5h-1.5zM238.65 37.32h1.5v1.5h-1.5zM249.55 37.32h1.5v1.5h-1.5zM260.45 37.32h1.5v1.5h-1.5zM271.35 37.32h1.5v1.5h-1.5zM282.25 37.32h1.5v1.5h-1.5zM293.15 37.32h1.5v1.5h-1.5zM304.05 37.32h1.5v1.5h-1.5zM314.95 37.32h1.5v1.5h-1.5zM325.85 37.32h1.5v1.5h-1.5zM336.75 37.32h1.5v1.5h-1.5zM347.65 37.32h1.5v1.5h-1.5zM358.55 37.32h1.5v1.5h-1.5zM369.45 37.32h1.5v1.5h-1.5zM380.35 37.32h1.5v1.5h-1.5zM391.25 37.32h1.5v1.5h-1.5zM402.15 37.32h1.5v1.5h-1.5zM413.05 37.32h1.5v1.5h-1.5zM423.95 37.32h1.5v1.5h-1.5zM434.85 37.32h1.5v1.5h-1.5zM445.75 37.32h1.5v1.5h-1.5zM456.65 37.32h1.5v1.5h-1.5zM467.55 37.32h1.5v1.5h-1.5zM478.45 37.32h1.5v1.5h-1.5zM489.35 37.32h1.5v1.5h-1.5zM500.25 37.32h1.5v1.5h-1.5zM511.15 37.32h1.5v1.5h-1.5zM522.05 37.32h1.5v1.5h-1.5zM532.95 37.32h1.5v1.5h-1.5zM543.85 37.32h1.5v1.5h-1.5zM554.75 37.32h1.5v1.5h-1.5zM565.65 37.32h1.5v1.5h-1.5zM174.7 403.2h1.5v1.5h-1.5zM174.7 392.4h1.5v1.5h-1.5zM174.7 381.4h1.5v1.5h-1.5zM174.7 370.6h1.5v1.5h-1.5zM174.7 359.6h1.5v1.5h-1.5zM174.7 348.8h1.5v1.5h-1.5zM174.7 337.9h1.5v1.5h-1.5zM174.7 326.9h1.5v1.5h-1.5zM174.7 316.1h1.5v1.5h-1.5zM174.7 305.1h1.5v1.5h-1.5zM174.7 294.2h1.5v1.5h-1.5zM174.7 283.4h1.5v1.5h-1.5zM174.7 272.4h1.5v1.5h-1.5zM174.7 261.5h1.5v1.5h-1.5zM174.7 250.7h1.5v1.5h-1.5zM174.7 239.8h1.5v1.5h-1.5zM174.7 228.8h1.5v1.5h-1.5zM174.7 217.9h1.5v1.5h-1.5zM174.7 207.0h1.5v1.5h-1.5zM174.7 196.2h1.5v1.5h-1.5zM174.7 185.2h1.5v1.5h-1.5zM174.7 174.3h1.5v1.5h-1.5zM174.7 163.4h1.5v1.5h-1.5zM174.7 152.5h1.5v1.5h-1.5zM174.7 141.6h1.5v1.5h-1.5zM174.7 130.8h1.5v1.5h-1.5zM174.7 119.8h1.5v1.5h-1.5zM174.7 108.9h1.5v1.5h-1.5zM174.7 98.1h1.5v1.5h-1.5zM174.7 87.1h1.5v1.5h-1.5zM174.7 76.2h1.5v1.5h-1.5zM174.7 65.3h1.5v1.5h-1.5zM174.7 54.4h1.5v1.5h-1.5zM174.7 43.6h1.5v1.5h-1.5zM174.7 32.6h1.5v1.5h-1.5zM252.8 403.2h1.5v1.5h-1.5zM252.8 392.4h1.5v1.5h-1.5zM252.8 381.4h1.5v1.5h-1.5zM252.8 370.6h1.5v1.5h-1.5zM252.8 359.6h1.5v1.5h-1.5zM252.8 348.8h1.5v1.5h-1.5zM252.8 337.9h1.5v1.5h-1.5zM252.8 326.9h1.5v1.5h-1.5zM252.8 316.1h1.5v1.5h-1.5zM252.8 305.1h1.5v1.5h-1.5zM252.8 294.2h1.5v1.5h-1.5zM252.8 283.4h1.5v1.5h-1.5zM252.8 272.4h1.5v1.5h-1.5zM252.8 261.5h1.5v1.5h-1.5zM252.8 250.7h1.5v1.5h-1.5zM252.8 239.8h1.5v1.5h-1.5zM252.8 228.8h1.5v1.5h-1.5zM252.8 217.9h1.5v1.5h-1.5zM252.8 207.0h1.5v1.5h-1.5zM252.8 196.2h1.5v1.5h-1.5zM252.8 185.2h1.5v1.5h-1.5zM252.8 174.3h1.5v1.5h-1.5zM252.8 163.4h1.5v1.5h-1.5zM252.8 152.5h1.5v1.5h-1.5zM252.8 141.6h1.5v1.5h-1.5zM252.8 130.8h1.5v1.5h-1.5zM252.8 119.8h1.5v1.5h-1.5zM252.8 108.9h1.5v1.5h-1.5zM252.8 98.1h1.5v1.5h-1.5zM252.8 87.1h1.5v1.5h-1.5zM252.8 76.2h1.5v1.5h-1.5zM252.8 65.3h1.5v1.5h-1.5zM252.8 54.4h1.5v1.5h-1.5zM252.8 43.6h1.5v1.5h-1.5zM252.8 32.6h1.5v1.5h-1.5zM332.2 403.2h1.5v1.5h-1.5zM332.2 392.4h1.5v1.5h-1.5zM332.2 381.4h1.5v1.5h-1.5zM332.2 370.6h1.5v1.5h-1.5zM332.2 359.6h1.5v1.5h-1.5zM332.2 348.8h1.5v1.5h-1.5zM332.2 337.9h1.5v1.5h-1.5zM332.2 326.9h1.5v1.5h-1.5zM332.2 316.1h1.5v1.5h-1.5zM332.2 305.1h1.5v1.5h-1.5zM332.2 294.2h1.5v1.5h-1.5zM332.2 283.4h1.5v1.5h-1.5zM332.2 272.4h1.5v1.5h-1.5zM332.2 261.5h1.5v1.5h-1.5zM332.2 250.7h1.5v1.5h-1.5zM332.2 239.8h1.5v1.5h-1.5zM332.2 228.8h1.5v1.5h-1.5zM332.2 217.9h1.5v1.5h-1.5zM332.2 207.0h1.5v1.5h-1.5zM332.2 196.2h1.5v1.5h-1.5zM332.2 185.2h1.5v1.5h-1.5zM332.2 174.3h1.5v1.5h-1.5zM332.2 163.4h1.5v1.5h-1.5zM332.2 152.5h1.5v1.5h-1.5zM332.2 141.6h1.5v1.5h-1.5zM332.2 130.8h1.5v1.5h-1.5zM332.2 119.8h1.5v1.5h-1.5zM332.2 108.9h1.5v1.5h-1.5zM332.2 98.1h1.5v1.5h-1.5zM332.2 87.1h1.5v1.5h-1.5zM332.2 76.2h1.5v1.5h-1.5zM332.2 65.3h1.5v1.5h-1.5zM332.2 54.4h1.5v1.5h-1.5zM332.2 43.6h1.5v1.5h-1.5zM332.2 32.6h1.5v1.5h-1.5zM410.6 403.2h1.5v1.5h-1.5zM410.6 392.4h1.5v1.5h-1.5zM410.6 381.4h1.5v1.5h-1.5zM410.6 370.6h1.5v1.5h-1.5zM410.6 359.6h1.5v1.5h-1.5zM410.6 348.8h1.5v1.5h-1.5zM410.6 337.9h1.5v1.5h-1.5zM410.6 326.9h1.5v1.5h-1.5zM410.6 316.1h1.5v1.5h-1.5zM410.6 305.1h1.5v1.5h-1.5zM410.6 294.2h1.5v1.5h-1.5zM410.6 283.4h1.5v1.5h-1.5zM410.6 272.4h1.5v1.5h-1.5zM410.6 261.5h1.5v1.5h-1.5zM410.6 250.7h1.5v1.5h-1.5zM410.6 239.8h1.5v1.5h-1.5zM410.6 228.8h1.5v1.5h-1.5zM410.6 217.9h1.5v1.5h-1.5zM410.6 207.0h1.5v1.5h-1.5zM410.6 196.2h1.5v1.5h-1.5zM410.6 185.2h1.5v1.5h-1.5zM410.6 174.3h1.5v1.5h-1.5zM410.6 163.4h1.5v1.5h-1.5zM410.6 152.5h1.5v1.5h-1.5zM410.6 141.6h1.5v1.5h-1.5zM410.6 130.8h1.5v1.5h-1.5zM410.6 119.8h1.5v1.5h-1.5zM410.6 108.9h1.5v1.5h-1.5zM410.6 98.1h1.5v1.5h-1.5zM410.6 87.1h1.5v1.5h-1.5zM410.6 76.2h1.5v1.5h-1.5zM410.6 65.3h1.5v1.5h-1.5zM410.6 54.4h1.5v1.5h-1.5zM410.6 43.6h1.5v1.5h-1.5zM410.6 32.6h1.5v1.5h-1.5zM489.1 403.2h1.5v1.5h-1.5zM489.1 392.4h1.5v1.5h-1.5zM489.1 381.4h1.5v1.5h-1.5zM489.1 370.6h1.5v1.5h-1.5zM489.1 359.6h1.5v1.5h-1.5zM489.1 348.8h1.5v1.5h-1.5zM489.1 337.9h1.5v1.5h-1.5zM489.1 326.9h1.5v1.5h-1.5zM489.1 316.1h1.5v1.5h-1.5zM489.1 305.1h1.5v1.5h-1.5zM489.1 294.2h1.5v1.5h-1.5zM489.1 283.4h1.5v1.5h-1.5zM489.1 272.4h1.5v1.5h-1.5zM489.1 261.5h1.5v1.5h-1.5zM489.1 250.7h1.5v1.5h-1.5zM489.1 239.8h1.5v1.5h-1.5zM489.1 228.8h1.5v1.5h-1.5zM489.1 217.9h1.5v1.5h-1.5zM489.1 207.0h1.5v1.5h-1.5zM489.1 196.2h1.5v1.5h-1.5zM489.1 185.2h1.5v1.5h-1.5zM489.1 174.3h1.5v1.5h-1.5zM489.1 163.4h1.5v1.5h-1.5zM489.1 152.5h1.5v1.5h-1.5zM489.1 141.6h1.5v1.5h-1.5zM489.1 130.8h1.5v1.5h-1.5zM489.1 119.8h1.5v1.5h-1.5zM489.1 108.9h1.5v1.5h-1.5zM489.1 98.1h1.5v1.5h-1.5zM489.1 87.1h1.5v1.5h-1.5zM489.1 76.2h1.5v1.5h-1.5zM489.1 65.3h1.5v1.5h-1.5zM489.1 54.4h1.5v1.5h-1.5zM489.1 43.6h1.5v1.5h-1.5zM489.1 32.6h1.5v1.5h-1.5z"/>
<rect x="97.0" y="32.8" width="472.20" height="372.00" fill="none" stroke="#111" stroke-width="1.5"/>
<path d="M175.40,404.8v-5M175.40,32.8v5M253.60,404.8v-5M253.60,32.8v5M333.00,404.8v-5M333.00,32.8v5M411.30,404.8v-5M411.30,32.8v5M489.90,404.8v-5M489.90,32.8v5M97.0,367.47h2.3M569.2,367.47h-3M97.0,345.64h2.3M569.2,345.64h-3M97.0,330.14h2.3M569.2,330.14h-3M97.0,318.13h2.3M569.2,318.13h-3M97.0,308.31h2.3M569.2,308.31h-3M97.0,300.01h2.3M569.2,300.01h-3M97.0,292.82h2.3M569.2,292.82h-3M97.0,286.47h2.3M569.2,286.47h-3M97.0,280.80h4.5M569.2,280.80h-5M97.0,243.47h2.3M569.2,243.47h-3M97.0,221.64h2.3M569.2,221.64h-3M97.0,206.14h2.3M569.2,206.14h-3M97.0,194.13h2.3M569.2,194.13h-3M97.0,184.31h2.3M569.2,184.31h-3M97.0,176.01h2.3M569.2,176.01h-3M97.0,168.82h2.3M569.2,168.82h-3M97.0,162.47h2.3M569.2,162.47h-3M97.0,156.80h4.5M569.2,156.80h-5M97.0,119.47h2.3M569.2,119.47h-3M97.0,97.64h2.3M569.2,97.64h-3M97.0,82.14h2.3M569.2,82.14h-3M97.0,70.13h2.3M569.2,70.13h-3M97.0,60.31h2.3M569.2,60.31h-3M97.0,52.01h2.3M569.2,52.01h-3M97.0,44.82h2.3M569.2,44.82h-3M97.0,38.47h2.3M569.2,38.47h-3M97.0,-4.53h2.3M569.2,-4.53h-3M97.0,-26.36h2.3M569.2,-26.36h-3M97.0,-41.86h2.3M569.2,-41.86h-3M97.0,-53.87h2.3M569.2,-53.87h-3M97.0,-63.69h2.3M569.2,-63.69h-3M97.0,-71.99h2.3M569.2,-71.99h-3M97.0,-79.18h2.3M569.2,-79.18h-3M97.0,-85.53h2.3M569.2,-85.53h-3" stroke="#111" stroke-width="1.3" fill="none"/>
<polyline points="97.05,152.30 127.60,165.60 158.90,173.10 190.70,178.50 222.00,179.50 253.70,181.50 285.10,181.80 316.80,181.80 348.20,181.80 379.60,181.60 411.20,181.60 442.90,182.85 474.50,182.85 506.00,182.85 537.60,183.70 568.90,182.85" fill="none" stroke="#111" stroke-width="1.5" stroke-linejoin="round"/>
<polyline points="97.05,182.90 127.60,200.10 158.90,212.20 190.70,215.50 222.00,217.90 253.70,220.80 285.10,220.90 316.80,220.90 348.20,220.90 379.60,220.90 411.20,220.90 442.90,220.90 474.50,220.90 506.00,220.90 537.60,220.90 568.90,220.90" fill="none" stroke="#111" stroke-width="1.5" stroke-linejoin="round"/>
<polyline points="97.05,275.30 127.60,292.70 158.90,299.20 190.70,308.10 222.00,308.10 253.70,308.10 285.10,308.00 316.80,308.00 348.20,308.00 379.60,308.00 411.20,308.00 442.90,308.00 474.50,308.00 506.00,308.00 537.60,308.00 568.90,308.00" fill="none" stroke="#111" stroke-width="1.5" stroke-linejoin="round"/>
<polyline points="97.05,303.70 127.60,317.70 158.90,329.40 190.70,337.80 222.00,341.50 253.70,344.80 285.10,345.30 316.80,345.30 348.20,345.30 379.60,345.30 411.20,345.30 442.90,345.30 474.50,345.30 506.00,345.30 537.60,345.30 568.90,345.30" fill="none" stroke="#111" stroke-width="1.5" stroke-linejoin="round"/>
<rect x="92.90" y="148.15" width="8.3" height="8.3" fill="none" stroke="#111" stroke-width="1.6"/>
<rect x="123.45" y="161.45" width="8.3" height="8.3" fill="none" stroke="#111" stroke-width="1.6"/>
<rect x="154.75" y="168.95" width="8.3" height="8.3" fill="none" stroke="#111" stroke-width="1.6"/>
<rect x="186.55" y="174.35" width="8.3" height="8.3" fill="none" stroke="#111" stroke-width="1.6"/>
<rect x="217.85" y="175.35" width="8.3" height="8.3" fill="none" stroke="#111" stroke-width="1.6"/>
<rect x="249.55" y="177.35" width="8.3" height="8.3" fill="none" stroke="#111" stroke-width="1.6"/>
<rect x="280.95" y="177.65" width="8.3" height="8.3" fill="none" stroke="#111" stroke-width="1.6"/>
<rect x="312.65" y="177.65" width="8.3" height="8.3" fill="none" stroke="#111" stroke-width="1.6"/>
<rect x="344.05" y="177.65" width="8.3" height="8.3" fill="none" stroke="#111" stroke-width="1.6"/>
<rect x="375.45" y="177.45" width="8.3" height="8.3" fill="none" stroke="#111" stroke-width="1.6"/>
<rect x="407.05" y="177.45" width="8.3" height="8.3" fill="none" stroke="#111" stroke-width="1.6"/>
<rect x="438.75" y="178.70" width="8.3" height="8.3" fill="none" stroke="#111" stroke-width="1.6"/>
<rect x="470.35" y="178.70" width="8.3" height="8.3" fill="none" stroke="#111" stroke-width="1.6"/>
<rect x="501.85" y="178.70" width="8.3" height="8.3" fill="none" stroke="#111" stroke-width="1.6"/>
<rect x="533.45" y="179.55" width="8.3" height="8.3" fill="none" stroke="#111" stroke-width="1.6"/>
<rect x="564.75" y="178.70" width="8.3" height="8.3" fill="none" stroke="#111" stroke-width="1.6"/>
<circle cx="97.05" cy="182.90" r="3.95" fill="none" stroke="#111" stroke-width="1.4"/>
<circle cx="127.60" cy="200.10" r="3.95" fill="none" stroke="#111" stroke-width="1.4"/>
<circle cx="158.90" cy="212.20" r="3.95" fill="none" stroke="#111" stroke-width="1.4"/>
<circle cx="190.70" cy="215.50" r="3.95" fill="none" stroke="#111" stroke-width="1.4"/>
<circle cx="222.00" cy="217.90" r="3.95" fill="none" stroke="#111" stroke-width="1.4"/>
<circle cx="253.70" cy="220.80" r="3.95" fill="none" stroke="#111" stroke-width="1.4"/>
<circle cx="285.10" cy="220.90" r="3.95" fill="none" stroke="#111" stroke-width="1.4"/>
<circle cx="316.80" cy="220.90" r="3.95" fill="none" stroke="#111" stroke-width="1.4"/>
<circle cx="348.20" cy="220.90" r="3.95" fill="none" stroke="#111" stroke-width="1.4"/>
<circle cx="379.60" cy="220.90" r="3.95" fill="none" stroke="#111" stroke-width="1.4"/>
<circle cx="411.20" cy="220.90" r="3.95" fill="none" stroke="#111" stroke-width="1.4"/>
<circle cx="442.90" cy="220.90" r="3.95" fill="none" stroke="#111" stroke-width="1.4"/>
<circle cx="474.50" cy="220.90" r="3.95" fill="none" stroke="#111" stroke-width="1.4"/>
<circle cx="506.00" cy="220.90" r="3.95" fill="none" stroke="#111" stroke-width="1.4"/>
<circle cx="537.60" cy="220.90" r="3.95" fill="none" stroke="#111" stroke-width="1.4"/>
<circle cx="568.90" cy="220.90" r="3.95" fill="none" stroke="#111" stroke-width="1.4"/>
<path d="M97.05,270.20L101.35,275.30L97.05,280.40L92.75,275.30Z" fill="none" stroke="#111" stroke-width="1.4"/>
<path d="M127.60,287.60L131.90,292.70L127.60,297.80L123.30,292.70Z" fill="none" stroke="#111" stroke-width="1.4"/>
<path d="M158.90,294.10L163.20,299.20L158.90,304.30L154.60,299.20Z" fill="none" stroke="#111" stroke-width="1.4"/>
<path d="M190.70,303.00L195.00,308.10L190.70,313.20L186.40,308.10Z" fill="none" stroke="#111" stroke-width="1.4"/>
<path d="M222.00,303.00L226.30,308.10L222.00,313.20L217.70,308.10Z" fill="none" stroke="#111" stroke-width="1.4"/>
<path d="M253.70,303.00L258.00,308.10L253.70,313.20L249.40,308.10Z" fill="none" stroke="#111" stroke-width="1.4"/>
<path d="M285.10,302.90L289.40,308.00L285.10,313.10L280.80,308.00Z" fill="none" stroke="#111" stroke-width="1.4"/>
<path d="M316.80,302.90L321.10,308.00L316.80,313.10L312.50,308.00Z" fill="none" stroke="#111" stroke-width="1.4"/>
<path d="M348.20,302.90L352.50,308.00L348.20,313.10L343.90,308.00Z" fill="none" stroke="#111" stroke-width="1.4"/>
<path d="M379.60,302.90L383.90,308.00L379.60,313.10L375.30,308.00Z" fill="none" stroke="#111" stroke-width="1.4"/>
<path d="M411.20,302.90L415.50,308.00L411.20,313.10L406.90,308.00Z" fill="none" stroke="#111" stroke-width="1.4"/>
<path d="M442.90,302.90L447.20,308.00L442.90,313.10L438.60,308.00Z" fill="none" stroke="#111" stroke-width="1.4"/>
<path d="M474.50,302.90L478.80,308.00L474.50,313.10L470.20,308.00Z" fill="none" stroke="#111" stroke-width="1.4"/>
<path d="M506.00,302.90L510.30,308.00L506.00,313.10L501.70,308.00Z" fill="none" stroke="#111" stroke-width="1.4"/>
<path d="M537.60,302.90L541.90,308.00L537.60,313.10L533.30,308.00Z" fill="none" stroke="#111" stroke-width="1.4"/>
<path d="M568.90,302.90L573.20,308.00L568.90,313.10L564.60,308.00Z" fill="none" stroke="#111" stroke-width="1.4"/>
<path d="M97.05,299.30v8.8M93.25,303.70h7.6" fill="none" stroke="#111" stroke-width="1.1"/><path d="M94.35,301.00l5.4,5.4M94.35,306.40l5.4,-5.4" fill="none" stroke="#555" stroke-width="0.9"/>
<path d="M127.60,313.30v8.8M123.80,317.70h7.6" fill="none" stroke="#111" stroke-width="1.1"/><path d="M124.90,315.00l5.4,5.4M124.90,320.40l5.4,-5.4" fill="none" stroke="#555" stroke-width="0.9"/>
<path d="M158.90,325.00v8.8M155.10,329.40h7.6" fill="none" stroke="#111" stroke-width="1.1"/><path d="M156.20,326.70l5.4,5.4M156.20,332.10l5.4,-5.4" fill="none" stroke="#555" stroke-width="0.9"/>
<path d="M190.70,333.40v8.8M186.90,337.80h7.6" fill="none" stroke="#111" stroke-width="1.1"/><path d="M188.00,335.10l5.4,5.4M188.00,340.50l5.4,-5.4" fill="none" stroke="#555" stroke-width="0.9"/>
<path d="M222.00,337.10v8.8M218.20,341.50h7.6" fill="none" stroke="#111" stroke-width="1.1"/><path d="M219.30,338.80l5.4,5.4M219.30,344.20l5.4,-5.4" fill="none" stroke="#555" stroke-width="0.9"/>
<path d="M253.70,340.40v8.8M249.90,344.80h7.6" fill="none" stroke="#111" stroke-width="1.1"/><path d="M251.00,342.10l5.4,5.4M251.00,347.50l5.4,-5.4" fill="none" stroke="#555" stroke-width="0.9"/>
<path d="M285.10,340.90v8.8M281.30,345.30h7.6" fill="none" stroke="#111" stroke-width="1.1"/><path d="M282.40,342.60l5.4,5.4M282.40,348.00l5.4,-5.4" fill="none" stroke="#555" stroke-width="0.9"/>
<path d="M316.80,340.90v8.8M313.00,345.30h7.6" fill="none" stroke="#111" stroke-width="1.1"/><path d="M314.10,342.60l5.4,5.4M314.10,348.00l5.4,-5.4" fill="none" stroke="#555" stroke-width="0.9"/>
<path d="M348.20,340.90v8.8M344.40,345.30h7.6" fill="none" stroke="#111" stroke-width="1.1"/><path d="M345.50,342.60l5.4,5.4M345.50,348.00l5.4,-5.4" fill="none" stroke="#555" stroke-width="0.9"/>
<path d="M379.60,340.90v8.8M375.80,345.30h7.6" fill="none" stroke="#111" stroke-width="1.1"/><path d="M376.90,342.60l5.4,5.4M376.90,348.00l5.4,-5.4" fill="none" stroke="#555" stroke-width="0.9"/>
<path d="M411.20,340.90v8.8M407.40,345.30h7.6" fill="none" stroke="#111" stroke-width="1.1"/><path d="M408.50,342.60l5.4,5.4M408.50,348.00l5.4,-5.4" fill="none" stroke="#555" stroke-width="0.9"/>
<path d="M442.90,340.90v8.8M439.10,345.30h7.6" fill="none" stroke="#111" stroke-width="1.1"/><path d="M440.20,342.60l5.4,5.4M440.20,348.00l5.4,-5.4" fill="none" stroke="#555" stroke-width="0.9"/>
<path d="M474.50,340.90v8.8M470.70,345.30h7.6" fill="none" stroke="#111" stroke-width="1.1"/><path d="M471.80,342.60l5.4,5.4M471.80,348.00l5.4,-5.4" fill="none" stroke="#555" stroke-width="0.9"/>
<path d="M506.00,340.90v8.8M502.20,345.30h7.6" fill="none" stroke="#111" stroke-width="1.1"/><path d="M503.30,342.60l5.4,5.4M503.30,348.00l5.4,-5.4" fill="none" stroke="#555" stroke-width="0.9"/>
<path d="M537.60,340.90v8.8M533.80,345.30h7.6" fill="none" stroke="#111" stroke-width="1.1"/><path d="M534.90,342.60l5.4,5.4M534.90,348.00l5.4,-5.4" fill="none" stroke="#555" stroke-width="0.9"/>
<path d="M568.90,340.90v8.8M565.10,345.30h7.6" fill="none" stroke="#111" stroke-width="1.1"/><path d="M566.20,342.60l5.4,5.4M566.20,348.00l5.4,-5.4" fill="none" stroke="#555" stroke-width="0.9"/>
<path d="M72,28.60h7.3M72,152.60h7.3M72,276.60h7.3M72,400.60h7.3M167.3,492.55H177.6M167.3,495.60H177.6M263.6,492.55H274.2M263.6,495.60H274.2M408.6,492.55H419.0M408.6,495.60H419.0M514.4,492.55H525.0M514.4,495.60H525.0M167.3,516.65H177.6M167.3,519.70H177.6M263.6,516.65H274.2M263.6,519.70H274.2M408.6,516.65H419.0M408.6,519.70H419.0M514.4,516.65H525.0M514.4,519.70H525.0" stroke="#111" stroke-width="1.05" fill="none"/>
<text x="52.15" y="38.80" font-size="18.7">10</text>
<text x="81.90" y="32.20" font-size="12">1</text>
<text x="52.15" y="162.80" font-size="18.7">10</text>
<text x="81.90" y="156.20" font-size="12">2</text>
<text x="52.15" y="286.80" font-size="18.7">10</text>
<text x="81.90" y="280.20" font-size="12">3</text>
<text x="52.15" y="410.80" font-size="18.7">10</text>
<text x="81.90" y="404.20" font-size="12">4</text>
<text x="93.10" y="427.00" font-size="19">0</text>
<text x="170.57" y="427.00" font-size="19">5</text>
<text x="245.50" y="427.00" font-size="19">10</text>
<text x="324.50" y="427.00" font-size="19">15</text>
<text x="402.70" y="427.00" font-size="19">20</text>
<text x="481.00" y="427.00" font-size="19">25</text>
<text x="560.23" y="427.00" font-size="19">30</text>
<text x="250.25" y="455.50" font-size="19.3">Signal-noise ratio (dB)</text>
<text x="140.75" y="498.80" font-size="17.3">E</text>
<text x="152.65" y="501.50" font-size="14" font-style="italic">p</text>
<text x="184.05" y="498.80" font-size="16.8">0.1</text>
<text x="206.70" y="498.80" font-size="17.3">E</text>
<text x="217.75" y="501.70" font-size="13" font-style="italic">s</text>
<text x="224.45" y="498.80" font-size="17.3">,</text>
<text x="232.50" y="498.80" font-size="17.6" font-style="italic">N</text>
<text x="247.55" y="498.80" font-size="17.6" font-style="italic">L</text>
<text x="280.95" y="498.80" font-size="16.8">4</text>
<text x="290.25" y="498.80" font-size="16.8">0</text>
<text x="140.75" y="522.90" font-size="17.3">E</text>
<text x="152.65" y="525.60" font-size="14" font-style="italic">p</text>
<text x="184.05" y="522.90" font-size="16.8">0.1</text>
<text x="206.70" y="522.90" font-size="17.3">E</text>
<text x="217.75" y="525.80" font-size="13" font-style="italic">s</text>
<text x="224.45" y="522.90" font-size="17.3">,</text>
<text x="232.50" y="522.90" font-size="17.6" font-style="italic">N</text>
<text x="247.55" y="522.90" font-size="17.6" font-style="italic">L</text>
<text x="280.45" y="522.90" font-size="16.8">2</text>
<text x="290.25" y="522.90" font-size="16.8">0</text>
<text x="382.00" y="498.80" font-size="17.3">E</text>
<text x="393.25" y="501.50" font-size="14" font-style="italic">p</text>
<text x="425.55" y="498.80" font-size="16.8">0.01</text>
<text x="455.70" y="498.80" font-size="17.3">E</text>
<text x="467.75" y="501.70" font-size="13" font-style="italic">s</text>
<text x="475.15" y="498.80" font-size="17.3">,</text>
<text x="483.00" y="498.80" font-size="17.6" font-style="italic">N</text>
<text x="498.05" y="498.80" font-size="17.6" font-style="italic">L</text>
<text x="531.45" y="498.80" font-size="16.8">4</text>
<text x="540.75" y="498.80" font-size="16.8">0</text>
<text x="382.00" y="522.90" font-size="17.3">E</text>
<text x="393.25" y="525.60" font-size="14" font-style="italic">p</text>
<text x="425.55" y="522.90" font-size="16.8">0.01</text>
<text x="455.70" y="522.90" font-size="17.3">E</text>
<text x="467.75" y="525.80" font-size="13" font-style="italic">s</text>
<text x="475.15" y="522.90" font-size="17.3">,</text>
<text x="483.00" y="522.90" font-size="17.6" font-style="italic">N</text>
<text x="498.05" y="522.90" font-size="17.6" font-style="italic">L</text>
<text x="530.95" y="522.90" font-size="16.8">2</text>
<text x="540.75" y="522.90" font-size="16.8">0</text>
<text transform="translate(36.1,316.6) rotate(-90)" font-size="19.15">Mean square error (MSE)</text>
<path d="M97,492.9H128.7M97,517.3H128.7M339,492.9H370.7M339,517.3H370.7" stroke="#111" stroke-width="1.3"/>
<path d="M112.80,487.80L117.10,492.90L112.80,498.00L108.50,492.90Z" fill="none" stroke="#111" stroke-width="1.4"/>
<path d="M112.60,512.90v8.8M108.80,517.30h7.6" fill="none" stroke="#111" stroke-width="1.1"/><path d="M109.90,514.60l5.4,5.4M109.90,520.00l5.4,-5.4" fill="none" stroke="#555" stroke-width="0.9"/>
<rect x="350.85" y="488.75" width="8.3" height="8.3" fill="none" stroke="#111" stroke-width="1.6"/>
<circle cx="355.00" cy="516.90" r="3.95" fill="none" stroke="#111" stroke-width="1.4"/>
</svg></body></html>
